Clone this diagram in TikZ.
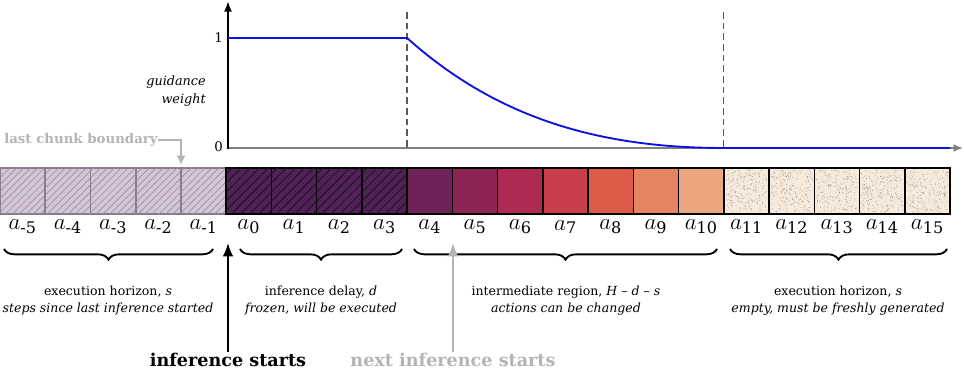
\documentclass[tikz,border=0pt]{standalone}
\usepackage{amsmath}
\usepackage{fontspec}
\setmainfont{DejaVu Serif}
\usetikzlibrary{arrows.meta,decorations.pathreplacing,patterns.meta}
\definecolor{lightfill}{HTML}{D3C6D6}
\definecolor{lightdraw}{HTML}{8A7A8C}
\definecolor{lighthatch}{HTML}{9E8CA2}
\definecolor{darkfill}{HTML}{52215A}
\definecolor{cA}{HTML}{6E2358}
\definecolor{cB}{HTML}{8C2556}
\definecolor{cC}{HTML}{AD2B52}
\definecolor{cD}{HTML}{C93E4B}
\definecolor{cE}{HTML}{DD5C49}
\definecolor{cF}{HTML}{E5845F}
\definecolor{cG}{HTML}{EBA680}
\definecolor{noisefill}{HTML}{F6EADC}
\definecolor{noisedot}{HTML}{8E8074}
\definecolor{lgray}{HTML}{B4B4B4}
\definecolor{curveblue}{HTML}{1010E0}
\tikzset{
  cell/.style={minimum width=33.93pt, minimum height=34.5pt, inner sep=0pt, outer sep=0pt, line width=1.2pt, draw=black},
  lightcell/.style={cell, draw=lightdraw, fill=lightfill, postaction={pattern={Lines[angle=45,distance=3.7pt,line width=0.5pt]}, pattern color=lighthatch}},
  darkcell/.style={cell, fill=darkfill, postaction={pattern={Lines[angle=45,distance=4.8pt,line width=0.75pt]}, pattern color=black!90}},
  noisecell/.style={cell, fill=noisefill},
  alabel/.style={font=\LARGE},
  bracedeco/.style={decorate, decoration={brace, mirror, amplitude=8pt}, line width=1.4pt},
  bracetext/.style={align=center, font=\fontsize{9.4}{12.8}\selectfont, inner sep=0pt},
  dashline/.style={line width=1pt, black!65, dash pattern=on 5pt off 3pt},
  bigarrow/.style={line width=1.6pt, -{Latex[length=10pt,width=8pt]}},
  biglabel/.style={font=\fontsize{13.2}{15}\selectfont\bfseries, inner sep=1pt},
}
\begin{document}
\begin{tikzpicture}[x=0.75pt,y=-0.75pt]
\useasboundingbox (0,0) rectangle (964,373);
% plot
\draw[dashline] (407.1,12) -- (407.1,148);
\draw[dashline] (723.8,12) -- (723.8,148);
\draw[gray, line width=1.3pt, -{Latex[length=7pt,width=6pt]}] (228,148) -- (963,148);
\draw[black, line width=1.4pt, -{Latex[length=8pt,width=6pt]}] (228,149) -- (228,1);
\draw[curveblue, line width=1.4pt] (228,38) -- (407.1,38) -- plot[domain=0:1, samples=80] ({407.1+\x*316.7},{148-110*((1-\x)*(exp(1-\x)-1)/(exp(1)-1))}) -- (950,148);
\node[anchor=east, inner sep=0pt] (one) at (223,38) {1};
\node[anchor=east, inner sep=0pt] (zero) at (223,147) {0};
\node[anchor=east, align=right, font=\fontsize{9.6}{13.5}\selectfont\itshape, inner sep=0pt] (gw) at (206,91) {guidance\\weight};
% cells
\foreach \k in {0,...,4} {
  \node[lightcell] (b\k) at ({(\k+0.5)*45.24},191) {};
}
\foreach \k in {5,...,8} {
  \node[darkcell] (b\k) at ({(\k+0.5)*45.24},191) {};
}
\foreach \k/\c in {9/cA,10/cB,11/cC,12/cD,13/cE,14/cF,15/cG} {
  \node[cell, fill=\c] (b\k) at ({(\k+0.5)*45.24},191) {};
}
\pgfmathsetseed{7}
\foreach \k in {16,...,20} {
  \node[noisecell] (b\k) at ({(\k+0.5)*45.24},191) {};
  \foreach \j in {1,...,230} {
    \fill[noisedot, opacity=0.3+0.6*rnd] ({\k*45.24+2+rnd*41.2},{170+rnd*42}) circle (0.38pt);
  }
  \node[cell] at (b\k) {};
}
\foreach \k in {0,...,20} {
  \pgfmathtruncatemacro{\n}{\k-5}
  \node[alabel] (l\k) at ({(\k+0.5)*45.24},227) {$a_{\text{\n}}$};
}
% last chunk boundary
\node[anchor=west, text=lgray, font=\bfseries, inner sep=0pt] (lcb) at (4,140) {last chunk boundary};
\coordinate (lcbend) at (181,165);
\draw[lgray, line width=1.5pt, -{Latex[length=7pt,width=7pt]}] (lcb.east) -- ++(3,0) -| (lcbend);
% braces
\draw[bracedeco] (4,249) -- (213,249);
\draw[bracedeco] (240,249) -- (402,249);
\draw[bracedeco] (414,249) -- (717,249);
\draw[bracedeco] (730,249) -- (947,249);
\node[bracetext] (t1) at (108,301) {execution horizon, \textit{s}\\\textit{steps since last inference started}};
\node[bracetext] (t2) at (321,301) {inference delay, \textit{d}\\\textit{frozen, will be executed}};
\node[bracetext] (t3) at (566,301) {intermediate region, \textit{H} -- \textit{d} -- \textit{s}\\\textit{actions can be changed}};
\node[bracetext] (t4) at (838,301) {execution horizon, \textit{s}\\\textit{empty, must be freshly generated}};
% inference starts
\node[biglabel] (is) at (228,360) {inference starts};
\coordinate (istip) at (228,243);
\draw[bigarrow, black] (is.north) -- (istip);
\node[biglabel, text=lgray] (nis) at (453,360) {next inference starts};
\coordinate (nistip) at (453,243);
\draw[bigarrow, lgray] (nis.north) -- (nistip);
\end{tikzpicture}
\end{document}
